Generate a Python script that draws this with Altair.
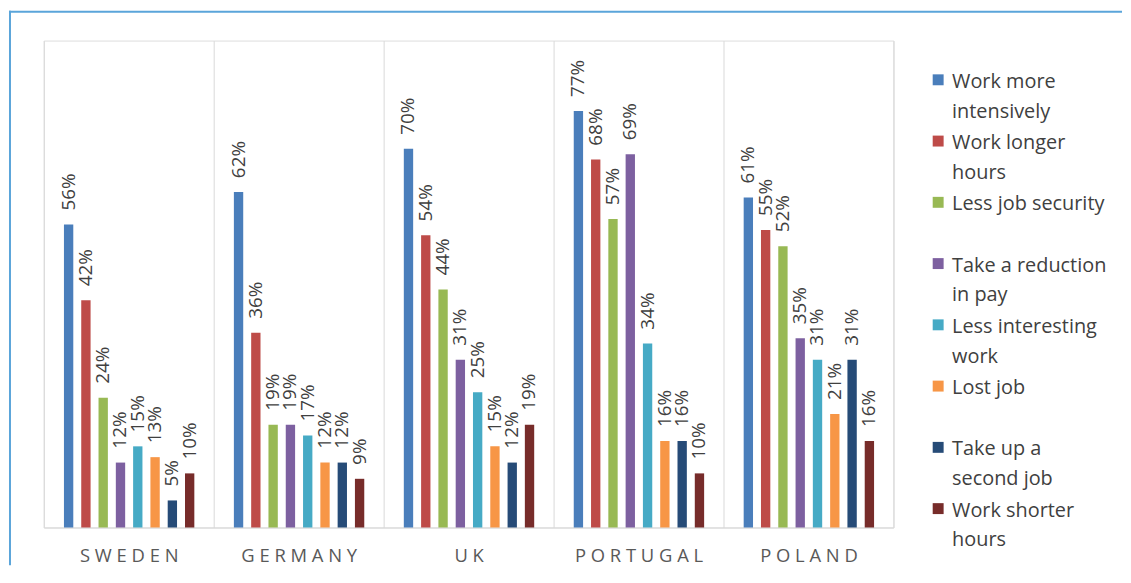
import altair as alt
import pandas as pd

# ---------------- data ----------------
COUNTRIES = ["SWEDEN", "GERMANY", "UK", "PORTUGAL", "POLAND"]
CATEGORIES = [
    "Work more intensively",
    "Work longer hours",
    "Less job security",
    "Take a reduction in pay",
    "Less interesting work",
    "Lost job",
    "Take up a second job",
    "Work shorter hours",
]
LEGEND_LABELS = [
    "Work more\nintensively",
    "Work longer\nhours",
    "Less job security",
    "Take a reduction\nin pay",
    "Less interesting\nwork",
    "Lost job",
    "Take up a\nsecond job",
    "Work shorter\nhours",
]
WORK_MORE_INTENSIVELY = [56, 62, 70, 77, 61]
WORK_LONGER_HOURS = [42, 36, 54, 68, 55]
LESS_JOB_SECURITY = [24, 19, 44, 57, 52]
REDUCTION_IN_PAY = [12, 19, 31, 69, 35]
LESS_INTERESTING_WORK = [15, 17, 25, 34, 31]
LOST_JOB = [13, 12, 15, 16, 21]
SECOND_JOB = [5, 12, 12, 16, 31]
WORK_SHORTER_HOURS = [10, 9, 19, 10, 16]
SERIES = [
    WORK_MORE_INTENSIVELY, WORK_LONGER_HOURS, LESS_JOB_SECURITY, REDUCTION_IN_PAY,
    LESS_INTERESTING_WORK, LOST_JOB, SECOND_JOB, WORK_SHORTER_HOURS,
]
COLORS = ["#4A7EBB", "#BE4B48", "#98B954", "#7D60A0", "#46AAC5", "#F79646", "#264B77", "#772C2A"]

rows = []
for cat, vals in zip(CATEGORIES, SERIES):
    for c, v in zip(COUNTRIES, vals):
        rows.append({"country": c, "cat": cat, "value": v})
df = pd.DataFrame(rows)
leg = pd.DataFrame({"cat": CATEGORIES, "label": LEGEND_LABELS})
one = pd.DataFrame({"a": [0]})

FONT = "Open Sans"
TEXT = "#404040"
GRID = "#D9D9D9"
BORDER = "#5AA5DA"

x = alt.X(
    "country:N", sort=COUNTRIES,
    scale=alt.Scale(paddingInner=0, paddingOuter=0),
    axis=alt.Axis(
        title=None, ticks=False, tickBand="extent", grid=True, gridColor=GRID, gridWidth=1,
        domainColor=GRID, domainWidth=1, labelAngle=0, labelFontSize=18.5, labelFont=FONT,
        labelColor="#595959", labelPadding=19,
        labelExpr="join(split(datum.label, ''), ' ')",
    ),
)
xo = alt.XOffset("cat:N", sort=CATEGORIES,
                 scale=alt.Scale(range=[20.3, 151.5], paddingInner=0.46, paddingOuter=0))
y = alt.Y("value:Q", scale=alt.Scale(domain=[0, 90]), axis=None)
color = alt.Color("cat:N", sort=CATEGORIES, scale=alt.Scale(domain=CATEGORIES, range=COLORS), legend=None)

bars = alt.Chart(df).mark_bar().encode(x=x, xOffset=xo, y=y, color=color)
labels = (
    alt.Chart(df)
    .transform_calculate(lbl="datum.value + '%'")
    .mark_text(angle=270, align="left", baseline="middle", dx=14, fontSize=19, font=FONT, color=TEXT)
    .encode(x=x, xOffset=xo, y=y, text="lbl:N")
)
main = alt.layer(bars, labels)

ly = alt.Y("cat:N", sort=CATEGORIES,
           scale=alt.Scale(type="point", domain=CATEGORIES, range=[39.5, 471], padding=0),
           axis=None)
leg_sq = alt.Chart(leg).mark_square(size=121, opacity=1).encode(
    x=alt.value(900), y=ly, color=color
)
leg_txt = alt.Chart(leg).mark_text(
    align="left", baseline="top", dy=-8, fontSize=20, font=FONT, color=TEXT,
    lineBreak="\n", lineHeight=30,
).encode(x=alt.value(914), y=ly, text="label:N")
legend = alt.layer(leg_sq, leg_txt)

left_border = alt.Chart(one).mark_rule(color=BORDER, strokeWidth=2).encode(
    x=alt.value(-34), y=alt.value(-30), y2=alt.value(528)
)
top_border = alt.Chart(one).mark_rule(color=BORDER, strokeWidth=2).encode(
    x=alt.value(-35), x2=alt.value(1085), y=alt.value(-29)
)

chart = (
    alt.layer(main, legend, left_border, top_border)
    .resolve_scale(y="independent")
    .properties(width=855, height=490, padding=0)
    .configure_view(stroke=None)
    .configure(font=FONT)
)

chart.save("out.html", embed_options={"renderer": "svg", "actions": False})
